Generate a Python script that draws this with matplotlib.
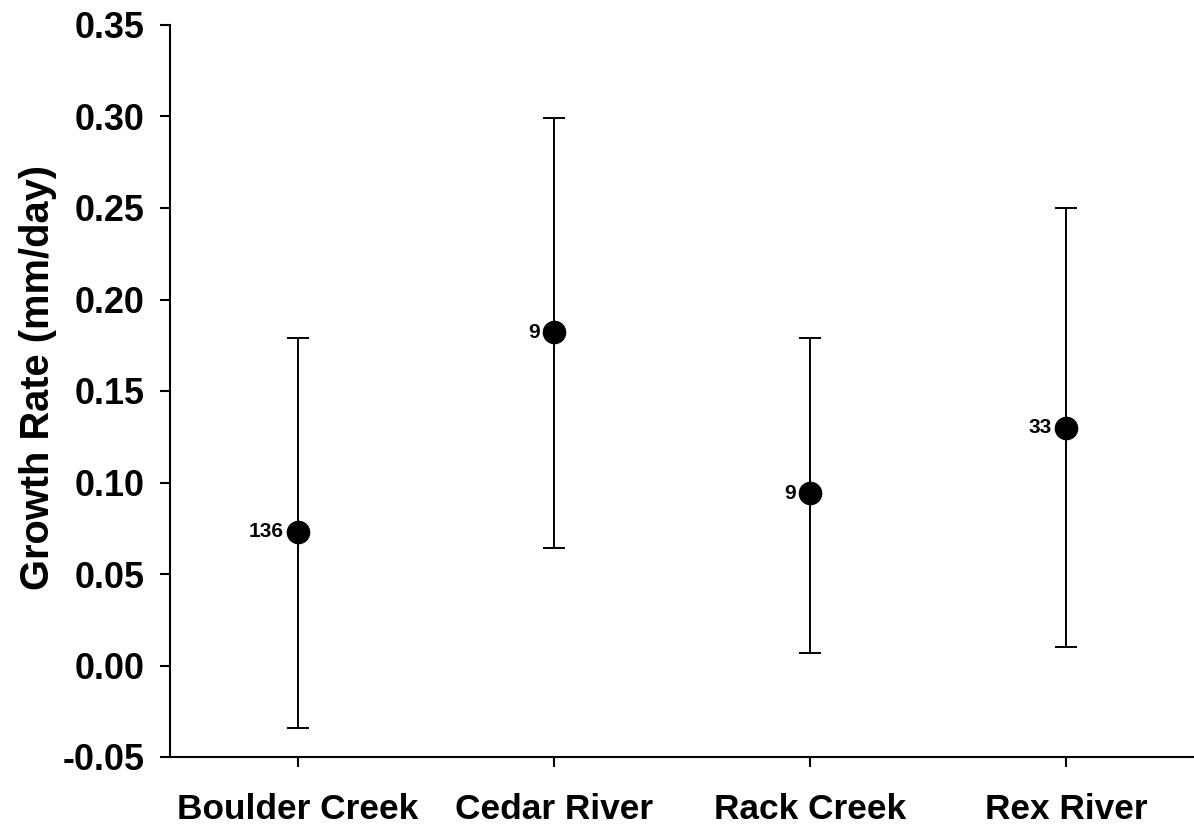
import matplotlib
matplotlib.use("Agg")
import matplotlib.pyplot as plt
import numpy as np

sites = ["Boulder Creek", "Cedar River", "Rack Creek", "Rex River"]
growth = [0.073, 0.182, 0.094, 0.130]
lower = [-0.034, 0.064, 0.007, 0.010]
upper = [0.179, 0.299, 0.179, 0.250]
n_labels = ["136", "9", "9", "33"]

plt.rcParams['font.family'] = ['Liberation Sans', 'DejaVu Sans']
plt.rcParams['font.weight'] = 'bold'

fig = plt.figure(figsize=(11.94, 8.25), dpi=100)
ax = fig.add_axes([170/1194, 68/825, 1024/1194, 732/825])

x = np.arange(len(sites))
g = np.array(growth)
yerr = [g - np.array(lower), np.array(upper) - g]
ax.errorbar(x, g, yerr=yerr, fmt='o', color='black', ecolor='black',
            elinewidth=1.4, capsize=8, capthick=1.4, markersize=16, zorder=3)

for xi, yi, lab in zip(x, g, n_labels):
    ax.annotate(lab, (xi, yi), xytext=(-10, 0), textcoords='offset points',
                ha='right', va='center', fontsize=15, fontweight='bold')

ax.set_xlim(-0.5, 3.5)
ax.set_ylim(-0.05, 0.35)
ticks = np.arange(-0.05, 0.351, 0.05)
ax.set_yticks(ticks)
ax.set_yticklabels([f"{v:.2f}" for v in ticks])
ax.set_xticks(x)
ax.set_xticklabels(sites)

for s in ['top', 'right']:
    ax.spines[s].set_visible(False)
for s in ['left', 'bottom']:
    ax.spines[s].set_linewidth(1.5)

ax.tick_params(axis='y', direction='out', length=7, width=1.5, pad=11.5, labelsize=25.8)
ax.tick_params(axis='x', direction='out', length=7, width=1.5, pad=19, labelsize=25.4)
for lab in ax.get_xticklabels() + ax.get_yticklabels():
    lab.set_fontweight('bold')

ax.set_ylabel("Growth Rate (mm/day)", fontsize=28.7, fontweight='bold')
ax.yaxis.set_label_coords(-0.110, 0.518)

fig.savefig("out.png", dpi=100)
